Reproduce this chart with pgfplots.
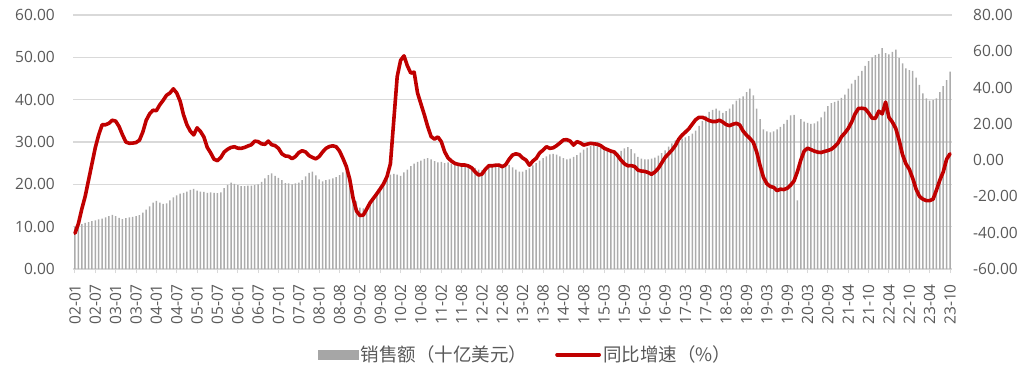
\documentclass[border=0pt]{standalone}
\usepackage{pgfplots}
\pgfplotsset{compat=1.18}
\usepackage{pgfplotstable}
\usepackage{fontspec}
\setmainfont{Open Sans}
\newfontfamily\cjk{Noto Sans CJK SC}
\definecolor{barc}{RGB}{172,172,172}
\definecolor{legc}{RGB}{166,166,166}
\definecolor{linec}{RGB}{192,0,0}
\definecolor{txt}{RGB}{89,89,89}
\definecolor{gridc}{RGB}{217,217,217}
\pgfplotstableread[row sep=\\]{
v\\
10.0\\10.3\\10.6\\10.9\\11.1\\11.3\\11.5\\11.7\\11.9\\12.2\\12.5\\12.8\\
12.5\\12.1\\11.8\\12.0\\12.2\\12.3\\12.5\\12.7\\13.3\\14.0\\14.8\\15.7\\
16.1\\15.7\\15.4\\15.5\\16.2\\16.9\\17.4\\17.8\\18.0\\18.3\\18.7\\18.9\\
18.5\\18.3\\18.2\\18.0\\18.1\\18.0\\17.9\\18.1\\19.1\\19.9\\20.4\\20.1\\
19.8\\19.6\\19.6\\19.7\\19.7\\19.8\\20.0\\20.6\\21.4\\22.2\\22.6\\22.0\\
21.5\\21.0\\20.3\\20.2\\20.0\\20.2\\20.4\\21.0\\21.9\\22.7\\23.0\\22.1\\
21.2\\20.7\\21.0\\21.2\\21.4\\21.7\\22.2\\22.8\\23.1\\20.5\\18.5\\16.0\\
14.5\\14.3\\14.8\\15.6\\16.8\\18.0\\19.5\\21.0\\22.0\\22.3\\22.5\\22.3\\
22.0\\22.8\\23.5\\24.3\\24.9\\25.3\\25.6\\26.0\\26.2\\25.9\\25.5\\25.2\\
25.3\\25.0\\25.2\\24.9\\25.0\\25.1\\24.8\\24.6\\24.4\\24.2\\23.9\\23.5\\
23.3\\23.6\\24.0\\24.3\\24.4\\24.2\\24.0\\24.3\\24.6\\24.0\\23.5\\23.0\\
23.0\\23.4\\23.8\\24.5\\25.0\\25.6\\26.2\\26.6\\27.1\\27.2\\27.0\\26.6\\
26.2\\25.9\\26.1\\26.5\\26.9\\27.5\\28.2\\28.7\\29.1\\29.2\\29.0\\28.7\\
28.3\\27.9\\27.6\\27.4\\27.5\\27.9\\28.5\\28.8\\28.3\\27.3\\26.5\\26.1\\
25.9\\25.9\\26.1\\26.3\\26.8\\27.4\\28.0\\28.9\\29.7\\30.4\\30.7\\30.8\\
31.1\\31.4\\32.0\\32.7\\33.8\\35.0\\36.2\\37.1\\37.6\\37.9\\37.4\\36.9\\
37.3\\37.9\\38.9\\39.8\\40.3\\40.8\\41.8\\42.6\\41.0\\37.9\\35.4\\33.0\\
32.5\\32.3\\32.5\\33.0\\33.6\\34.3\\35.2\\36.3\\36.4\\16.2\\35.4\\34.8\\
34.5\\34.3\\34.4\\34.9\\35.8\\37.2\\38.5\\39.2\\39.5\\39.8\\40.4\\41.2\\
42.6\\43.8\\44.7\\45.6\\46.8\\48.0\\49.1\\50.0\\50.5\\50.8\\52.2\\51.0\\
50.7\\51.3\\51.8\\49.8\\48.6\\47.4\\47.0\\46.8\\45.2\\43.5\\41.5\\40.3\\
39.8\\39.9\\40.3\\41.8\\43.2\\44.6\\46.6\\
}\bars
\pgfplotstableread[row sep=\\]{
v\\
-40.3\\-35.0\\-27.0\\-20.0\\-11.0\\-2.0\\7.0\\14.0\\19.5\\19.5\\20.3\\22.0\\
21.5\\18.5\\14.0\\10.0\\9.3\\9.4\\9.7\\11.0\\15.5\\22.0\\25.5\\27.5\\
27.3\\30.5\\33.0\\35.8\\37.0\\39.3\\37.0\\32.5\\25.0\\19.5\\16.0\\13.9\\
17.8\\15.8\\12.8\\7.0\\4.0\\0.5\\-0.3\\1.5\\4.5\\6.0\\7.0\\7.4\\
6.6\\6.5\\7.0\\7.8\\8.5\\10.5\\10.2\\9.0\\8.7\\10.5\\8.5\\8.0\\
6.5\\3.5\\2.3\\2.1\\0.8\\2.0\\4.2\\5.2\\4.5\\2.5\\1.5\\0.7\\
2.0\\4.5\\6.5\\7.5\\7.9\\7.4\\5.0\\1.0\\-3.5\\-10.5\\-21.0\\-28.0\\
-30.5\\-30.3\\-27.0\\-23.5\\-21.0\\-18.5\\-15.8\\-13.0\\-9.0\\-2.0\\22.0\\46.0\\
55.0\\57.5\\52.0\\48.0\\48.5\\37.0\\31.0\\25.0\\18.5\\13.0\\11.6\\12.8\\
10.2\\4.6\\1.2\\-0.5\\-1.8\\-2.3\\-2.7\\-2.7\\-3.2\\-4.3\\-6.5\\-8.2\\
-7.7\\-5.0\\-3.1\\-3.1\\-2.8\\-2.7\\-3.6\\-2.5\\0.5\\2.8\\3.5\\3.0\\
1.2\\0.0\\-2.8\\-0.5\\1.0\\4.0\\5.5\\7.4\\6.5\\6.8\\8.0\\9.5\\
11.1\\11.3\\10.5\\8.3\\10.2\\9.5\\8.3\\8.8\\9.3\\9.0\\8.8\\8.0\\
6.6\\5.8\\5.0\\4.5\\2.5\\0.0\\-2.0\\-3.1\\-3.0\\-3.5\\-5.5\\-6.0\\
-6.2\\-6.8\\-7.8\\-6.5\\-4.5\\-1.5\\1.5\\3.5\\5.5\\8.0\\11.5\\13.8\\
15.5\\17.3\\19.8\\22.3\\23.6\\23.6\\22.8\\21.8\\21.3\\21.3\\22.0\\21.0\\
19.6\\19.0\\19.8\\20.3\\19.4\\16.0\\13.8\\12.0\\9.8\\4.5\\-3.0\\-9.5\\
-13.0\\-14.5\\-15.0\\-16.8\\-16.0\\-16.2\\-15.5\\-13.8\\-11.5\\-6.4\\0.0\\5.0\\
6.6\\5.8\\5.0\\4.4\\4.2\\4.8\\5.3\\6.0\\7.5\\9.5\\12.9\\15.0\\
17.5\\21.0\\25.5\\28.5\\28.6\\28.3\\26.0\\23.2\\23.0\\27.0\\25.5\\32.0\\
23.5\\21.0\\17.5\\11.0\\3.0\\-2.0\\-5.0\\-10.0\\-16.0\\-20.0\\-21.5\\-22.3\\
-22.3\\-21.5\\-16.5\\-11.0\\-6.5\\0.5\\3.5\\
}\growth
\begin{document}
\begin{tikzpicture}
\path[use as bounding box] (-73.3pt,-99pt) rectangle (956.7pt,269pt);
\begin{axis}[
  at={(0pt,0pt)}, anchor=south west,
  scale only axis, width=878.4pt, height=254pt,
  xmin=-0.5, xmax=258.5, ymin=0, ymax=60,
  axis y line*=left, axis x line*=bottom,
  y axis line style={draw=none},
  x axis line style={draw=gridc, line width=1.2pt},
  xtick={0,6,...,258},
  xticklabels={02-01,02-07,03-01,03-07,04-01,04-07,05-01,05-07,06-01,06-07,07-01,07-07,08-01,08-08,09-02,09-08,10-02,10-08,11-02,11-08,12-02,12-08,13-02,13-08,14-02,14-08,15-03,15-09,16-03,16-09,17-03,17-09,18-03,18-09,19-03,19-09,20-03,20-09,21-04,21-10,22-04,22-10,23-04,23-10},
  xtick align=outside,
  major tick length=4pt,
  x tick style={draw=gridc, line width=1pt},
  xticklabel style={rotate=90, anchor=east, inner sep=0pt},
  xticklabel shift=11pt,
  ytick={0,10,...,60},
  y tick style={draw=none},
  yticklabel shift=15pt,
  ymajorgrids, grid style={draw=gridc, line width=1.2pt},
  tick label style={font=\fontsize{15.5}{17}\selectfont, text=txt},
  yticklabel style={/pgf/number format/.cd, fixed, fixed zerofill, precision=2, assume math mode=true},
  clip=false,
]
\addplot[ybar, bar width=1.5pt, fill=barc, draw=none] table[x expr=\coordindex, y=v] {\bars};
\end{axis}
\begin{axis}[
  at={(0pt,0pt)}, anchor=south west,
  scale only axis, width=878.4pt, height=254pt,
  xmin=-0.5, xmax=258.5, ymin=-60, ymax=80,
  axis y line*=right, axis x line=none,
  y axis line style={draw=none},
  ytick={-60,-40,...,80},
  y tick style={draw=none},
  yticklabel shift=18pt,
  tick label style={font=\fontsize{15.5}{17}\selectfont, text=txt},
  yticklabel style={/pgf/number format/.cd, fixed, fixed zerofill, precision=2, assume math mode=true},
  legend style={at={(0.515,-0.337)}, anchor=center, draw=none, fill=none,
    font=\cjk\fontsize{18.5}{20}\selectfont, text=txt,
    /tikz/every even column/.append style={column sep=26pt}},
  legend columns=2,
  legend cell align=left,
]
\addlegendimage{legend image code/.code={\fill[legc] (0pt,-4.5pt) rectangle (40pt,4.5pt);}}
\addlegendentry{销售额（十亿美元）}
\addplot[linec, line width=3.6pt, line join=round, line cap=round,
  legend image code/.code={\draw[linec, line width=3.8pt] (0pt,0pt) -- (42pt,0pt);}]
  table[x expr=\coordindex, y=v] {\growth};
\addlegendentry{同比增速（\%）}
\end{axis}
\end{tikzpicture}
\end{document}
